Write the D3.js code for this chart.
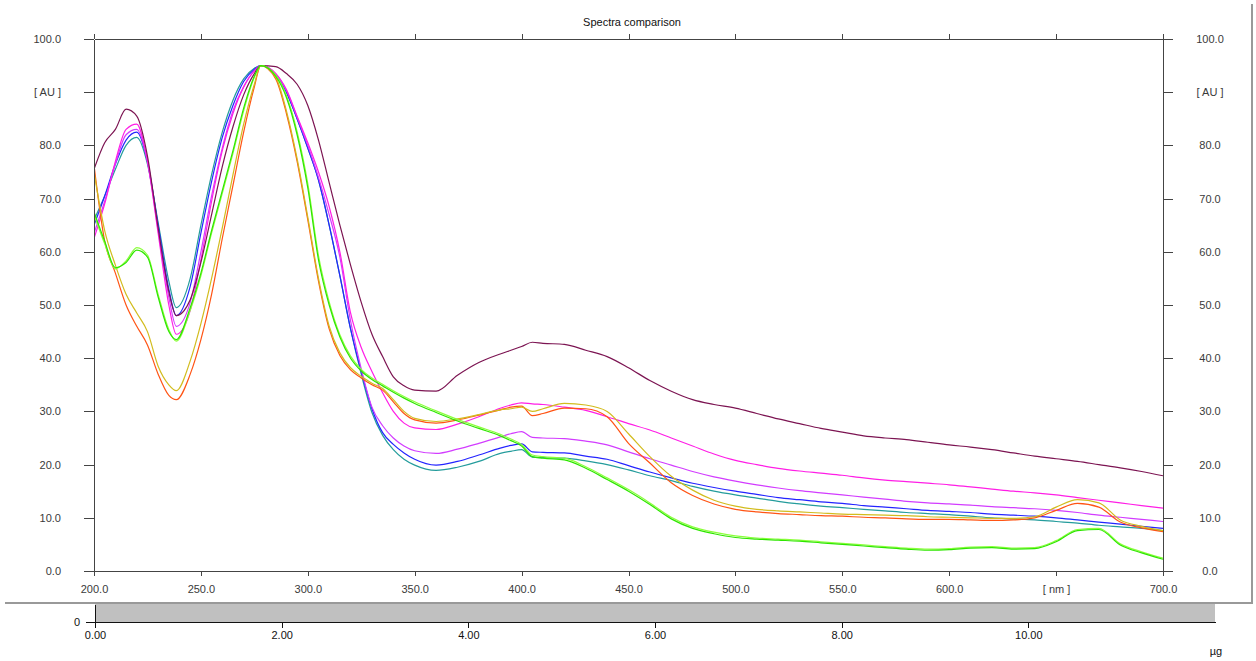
<!DOCTYPE html>
<html>
<head>
<meta charset="utf-8">
<script src="https://cdn.jsdelivr.net/npm/d3@7"></script>
<style>
  body { margin: 0; background: #fff; }
  text { font-family: "Liberation Sans", Arial, sans-serif; }
  .axis path, .axis line { stroke: #444; shape-rendering: crispEdges; }
  .axis text { fill: #3a3a3a; font-size: 11px; }
  .maxis path, .maxis line { stroke: #111; shape-rendering: crispEdges; }
  .maxis text { fill: #111; font-size: 11px; }
</style>
</head>
<body>
<div id="chart"></div>
<script>
// chart data
var wavelengths = [200, 205, 210, 215, 220, 225, 230, 235, 238.5, 245, 250, 255, 260, 265, 270, 275, 278, 285, 290, 295,
  300, 305, 310, 315, 320, 325, 330, 335, 340, 345, 350, 360, 370, 380, 390, 395, 400, 405, 410,
  420, 430, 440, 450, 460, 470, 480, 490, 500, 510, 520, 530, 540, 550, 560, 570, 580, 590, 600,
  610, 620, 630, 640, 650, 660, 670, 680, 690, 700];

var maroonSpec = [75.5, 80.5, 83, 86.8, 85.5, 78, 64.5, 52.5, 48, 51, 58, 67, 76, 83.5, 89.5, 93.5, 95, 94.8, 93.5, 91.5,
  87.5, 81, 73, 65, 57.5, 50.5, 44.5, 40.3, 36.5, 34.8, 34, 33.8, 36.8, 39.2, 40.8, 41.5, 42.2, 43, 42.8,
  42.6, 41.5, 40.3, 38.2, 35.8, 33.8, 32.2, 31.3, 30.6, 29.6, 28.6, 27.7, 26.8, 26.1, 25.4, 25, 24.7, 24.2, 23.7,
  23.3, 22.8, 22.2, 21.6, 21.1, 20.6, 20, 19.4, 18.7, 17.9];

var pinkSpec = [62.5, 69, 77, 83, 84, 77, 63.5, 50, 44.5, 49, 58.5, 69.5, 79, 86, 91, 94, 95, 93.5, 90.5, 85.5,
  80.5, 75, 68.5, 60, 48.5, 42, 37.5, 33.5, 30, 27.8, 26.9, 26.6, 27.6, 29, 30.6, 31.2, 31.6, 31.4, 31.3,
  30.8, 30.2, 29, 27.7, 26.5, 25, 23.5, 22, 20.8, 20, 19.3, 18.8, 18.4, 18, 17.5, 17.1, 16.8, 16.5, 16.2,
  15.8, 15.4, 15, 14.7, 14.3, 13.8, 13.3, 12.8, 12.3, 11.8];

var magentaSpec = [63.5, 69.5, 76.5, 82, 83, 77, 64, 51.5, 46, 50.5, 60, 70.5, 79.5, 86.5, 91, 94, 95, 93.5, 90.3, 85.3,
  80, 74, 67, 59, 47, 38, 30.8, 27.3, 25, 23.5, 22.6, 22.1, 22.9, 24, 25.2, 25.8, 26.2, 25.1, 25,
  24.9, 24.4, 23.7, 22.4, 21.1, 19.9, 18.7, 17.7, 16.9, 16.2, 15.6, 15.1, 14.7, 14.3, 13.9, 13.5, 13.1, 12.8, 12.6,
  12.4, 12.1, 11.9, 11.7, 11.4, 11, 10.5, 10.1, 9.7, 9.3];

var blueSpec = [65, 70.5, 76.5, 81, 82.5, 77, 65, 53, 48, 53.5, 63.5, 73.2, 81.5, 87.5, 92, 94.3, 95, 93.3, 90, 85,
  79.5, 73.5, 65, 55.5, 45.5, 37.5, 30.5, 26, 23.8, 22.2, 21, 19.9, 20.6, 21.8, 23.1, 23.6, 23.9, 22.4, 22.3,
  22.2, 21.6, 21, 19.8, 18.6, 17.5, 16.5, 15.7, 15, 14.4, 13.8, 13.4, 13, 12.7, 12.3, 12, 11.7, 11.4, 11.2,
  11, 10.7, 10.5, 10.3, 10, 9.6, 9.2, 8.8, 8.4, 8];

var tealSpec = [66, 70.5, 75.5, 80, 81.5, 76.5, 65.5, 54.5, 49.5, 55, 65, 74.5, 82.5, 88.5, 92.5, 94.5, 95, 93.3, 90, 85,
  79.5, 73.5, 65, 55.5, 45.5, 37, 29.8, 25.5, 22.8, 21, 19.9, 18.9, 19.5, 20.6, 22.1, 22.5, 22.8, 21.4, 21.3,
  21.2, 20.7, 20, 19, 17.9, 17, 15.9, 15, 14.3, 13.7, 13.1, 12.6, 12.2, 11.9, 11.6, 11.3, 11, 10.8, 10.6,
  10.3, 10, 9.8, 9.6, 9.3, 9, 8.6, 8.3, 8, 7.6];

var greenSpec = [67.5, 62, 57, 58, 60.3, 59, 51.5, 45, 43.5, 49.5, 56, 64, 71.5, 79, 87, 93, 95, 93, 89, 82,
  72, 58.5, 50, 44, 40, 37.6, 36, 34.8, 33.6, 32.5, 31.5, 29.8, 28.2, 26.8, 25.4, 24.5, 23.5, 21.5, 21.2,
  20.9, 19.3, 17.2, 15, 12.5, 9.8, 8, 7, 6.3, 6, 5.8, 5.6, 5.3, 5, 4.7, 4.4, 4.1, 3.9, 4,
  4.3, 4.4, 4.1, 4.2, 5.5, 7.6, 7.8, 4.9, 3.4, 2.2];

var limeSpec = [67, 61.5, 56.8, 58.3, 60.8, 59.4, 52, 45.4, 43.2, 49, 55.5, 63.5, 71, 78.5, 86.5, 92.8, 95, 93.2, 89.4, 82.6,
  72.8, 59.3, 50.6, 44.4, 40.4, 37.9, 36.3, 35.1, 33.9, 32.8, 31.8, 30.1, 28.5, 27.1, 25.7, 24.8, 23.8, 21.8, 21.5,
  21.2, 19.6, 17.5, 15.3, 12.8, 10.1, 8.3, 7.3, 6.6, 6.2, 6, 5.8, 5.5, 5.2, 4.9, 4.6, 4.3, 4.1, 4.2,
  4.5, 4.6, 4.3, 4.4, 5.7, 7.8, 8, 5.1, 3.6, 2.4];

var orangeSpec = [76.3, 62, 56, 50, 46, 42.5, 37, 33, 32.2, 37, 43.5, 52, 62.5, 72.5, 82.5, 91, 95, 92.5, 86, 77,
  66, 54.5, 45.5, 40.5, 37.8, 36.3, 35, 34, 31.8, 29.6, 28.4, 27.8, 28.4, 29.3, 30.3, 30.8, 31, 29.2, 29.6,
  30.6, 30.5, 29, 24, 20.3, 16.6, 14.2, 12.6, 11.6, 11.1, 10.8, 10.6, 10.4, 10.3, 10.1, 10, 9.8, 9.7, 9.7,
  9.6, 9.5, 9.6, 10, 11.4, 12.7, 12, 9.2, 8.1, 7.4];

var goldSpec = [75, 64, 57.5, 52, 48.5, 45, 38.5, 35, 33.9, 39.5, 46.5, 55, 64.5, 74.5, 84, 91.5, 95, 92.8, 86.5, 77.5,
  66.5, 55, 46, 41, 38.2, 36.6, 35.3, 34.3, 32.2, 30, 28.7, 28.1, 28.6, 29.4, 30.3, 30.5, 30.8, 30, 30.5,
  31.5, 31.2, 30, 25.8, 21.5, 17.8, 15.2, 13.3, 12.2, 11.6, 11.3, 11.1, 10.9, 10.7, 10.6, 10.5, 10.4, 10.2, 10.1,
  10, 9.9, 9.9, 10.2, 12, 13.4, 12.8, 9.6, 8.4, 7.6];

var seriesNames = ["teal", "blue", "magenta", "pink", "maroon", "orange", "gold", "lime", "green"];
var seriesValues = [tealSpec, blueSpec, magentaSpec, pinkSpec, maroonSpec, orangeSpec, goldSpec, limeSpec, greenSpec];
var seriesColors = ["#249c9c", "#2424ff", "#d23cff", "#ff1ee6", "#7c1452", "#ff5414", "#d2bc1e", "#8cff3c", "#2ee600"];

var yTicks = [0, 10, 20, 30, 40, 50, 60, 70, 80, 90, 100];
var xTicks = [200, 250, 300, 350, 400, 450, 500, 550, 600, 650, 700];
var massTicks = [0, 2, 4, 6, 8, 10];

// Part1: set up chart parameters
var svgWidth = 1256;
var svgHeight = 661;

var plot = { left: 94, right: 1163, top: 39, bottom: 571 };

var svg = d3.select("#chart")
  .append("svg")
  .attr("width", svgWidth)
  .attr("height", svgHeight)
  .style("display", "block");

svg.append("rect")
  .attr("width", svgWidth)
  .attr("height", svgHeight)
  .attr("fill", "#fff");

// scales
var xScale = d3.scaleLinear().domain([200, 700]).range([plot.left, plot.right]);
var yScale = d3.scaleLinear().domain([0, 100]).range([plot.bottom, plot.top]);

// title
svg.append("text")
  .attr("x", 632)
  .attr("y", 26)
  .attr("text-anchor", "middle")
  .attr("font-size", "11px")
  .attr("fill", "#111")
  .text("Spectra comparison");

// frame lines
svg.append("line")
  .attr("x1", 1252).attr("x2", 1252)
  .attr("y1", 4).attr("y2", 603)
  .attr("stroke", "#999").attr("stroke-width", 2);
svg.append("line")
  .attr("x1", 5).attr("x2", 1253)
  .attr("y1", 603).attr("y2", 603)
  .attr("stroke", "#999").attr("stroke-width", 2);

var yFormat = function(d) { return d === 90 ? "[ AU ]" : d.toFixed(1); };
var xFormat = function(d) { return d === 650 ? "[ nm ]" : d.toFixed(1); };

// left axis
svg.append("g")
  .attr("class", "axis")
  .attr("transform", `translate(${plot.left}, 0)`)
  .call(d3.axisLeft(yScale).tickValues(yTicks).tickFormat(yFormat)
    .tickSize(10).tickSizeOuter(0).tickPadding(23));

// right axis
var rightAxis = svg.append("g")
  .attr("class", "axis")
  .attr("transform", `translate(${plot.right}, 0)`)
  .call(d3.axisRight(yScale).tickValues(yTicks).tickFormat(yFormat)
    .tickSize(10).tickSizeOuter(0));
rightAxis.selectAll("text")
  .attr("x", 47)
  .attr("text-anchor", "middle");

// top axis, ticks only
svg.append("g")
  .attr("class", "axis")
  .attr("transform", `translate(0, ${plot.top})`)
  .call(d3.axisTop(xScale).tickValues(xTicks).tickFormat("")
    .tickSize(5).tickSizeOuter(0));

// bottom axis
svg.append("g")
  .attr("class", "axis")
  .attr("transform", `translate(0, ${plot.bottom})`)
  .call(d3.axisBottom(xScale).tickValues(xTicks).tickFormat(xFormat)
    .tickSize(5).tickSizeOuter(0).tickPadding(9));

// clip for spectra
svg.append("clipPath")
  .attr("id", "plotClip")
  .append("rect")
  .attr("x", plot.left + 1)
  .attr("y", plot.top)
  .attr("width", plot.right - plot.left - 1)
  .attr("height", plot.bottom - plot.top);

var line = d3.line()
  .x(function(d, i) { return xScale(wavelengths[i]); })
  .y(function(d) { return yScale(d); })
  .curve(d3.curveMonotoneX);

// append spectra lines
svg.append("g")
  .attr("clip-path", "url(#plotClip)")
  .selectAll("path")
  .data(seriesValues)
  .enter()
  .append("path")
  .attr("class", function(d, i) { return "spec " + seriesNames[i]; })
  .attr("d", line)
  .attr("fill", "none")
  .attr("stroke", function(d, i) { return seriesColors[i]; })
  .attr("stroke-width", 1.2)
  .attr("stroke-linejoin", "round");

// lower mass strip
var massScale = d3.scaleLinear().domain([0, 12]).range([95, 1215]);

svg.append("rect")
  .attr("x", massScale(0))
  .attr("y", 604)
  .attr("width", massScale(12) - massScale(0))
  .attr("height", 18)
  .attr("fill", "#c0c0c0");

svg.append("g")
  .attr("class", "maxis")
  .attr("transform", "translate(0, 622)")
  .call(d3.axisBottom(massScale).tickValues(massTicks)
    .tickFormat(function(d) { return d.toFixed(2); })
    .tickSize(6).tickSizeOuter(0).tickPadding(3));

var stripScale = d3.scaleLinear().domain([0, 1]).range([622, 604]);
svg.append("g")
  .attr("class", "maxis")
  .attr("transform", `translate(${massScale(0)}, 0)`)
  .call(d3.axisLeft(stripScale).tickValues([0]).tickFormat(d3.format("d"))
    .tickSize(9).tickSizeOuter(0).tickPadding(6));

svg.append("text")
  .attr("x", 1216)
  .attr("y", 655)
  .attr("text-anchor", "middle")
  .attr("font-size", "11px")
  .attr("fill", "#111")
  .text("µg");
</script>
</body>
</html>
